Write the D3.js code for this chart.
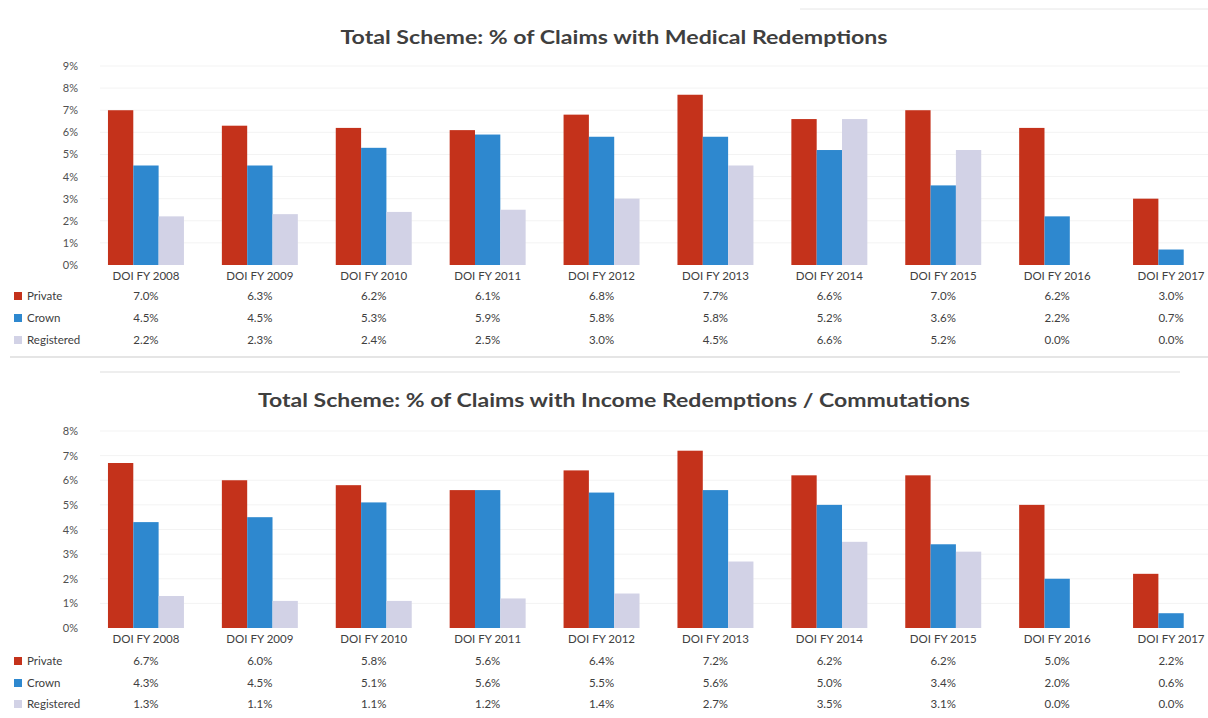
<!DOCTYPE html>
<html><head><meta charset="utf-8">
<script src="https://cdn.jsdelivr.net/npm/d3@7"></script>
<style>
html,body{margin:0;padding:0;background:#fff;}
svg{display:block;}
text{font-family:Lato,"Open Sans",sans-serif;}
</style></head>
<body>
<svg id="c" width="1208" height="718"></svg>
<script>
const categories = ["DOI FY 2008","DOI FY 2009","DOI FY 2010","DOI FY 2011","DOI FY 2012","DOI FY 2013","DOI FY 2014","DOI FY 2015","DOI FY 2016","DOI FY 2017"];
const seriesNames = ["Private","Crown","Registered"];
const seriesColors = ["#c4321b","#2e88cf","#d2d2e6"];

const medPrivate = [7.0,6.3,6.2,6.1,6.8,7.7,6.6,7.0,6.2,3.0];
const medCrown = [4.5,4.5,5.3,5.9,5.8,5.8,5.2,3.6,2.2,0.7];
const medRegistered = [2.2,2.3,2.4,2.5,3.0,4.5,6.6,5.2,0.0,0.0];
const medTicks = [0,1,2,3,4,5,6,7,8,9];

const incPrivate = [6.7,6.0,5.8,5.6,6.4,7.2,6.2,6.2,5.0,2.2];
const incCrown = [4.3,4.5,5.1,5.6,5.5,5.6,5.0,3.4,2.0,0.6];
const incRegistered = [1.3,1.1,1.1,1.2,1.4,2.7,3.5,3.1,0.0,0.0];
const incTicks = [0,1,2,3,4,5,6,7,8];

const titles = ["Total Scheme: % of Claims with Medical Redemptions","Total Scheme: % of Claims with Income Redemptions / Commutations"];

const svg = d3.select("#c");

// separators
svg.append("line").attr("x1",800).attr("x2",1208).attr("y1",9).attr("y2",9).attr("stroke","#e6e6e6");
svg.append("line").attr("x1",10).attr("x2",1208).attr("y1",357).attr("y2",357).attr("stroke","#dcdcdc").attr("stroke-width",1.5);
svg.append("line").attr("x1",100).attr("x2",1180).attr("y1",372).attr("y2",372).attr("stroke","#e8e8e8").attr("stroke-width",1.5);

const x0 = d3.scaleBand().domain(categories).range([89,1228]).paddingInner(0.333).paddingOuter(0.1665);
const x1 = d3.scaleBand().domain(seriesNames).range([0,x0.bandwidth()]);
const color = d3.scaleOrdinal().domain(seriesNames).range(seriesColors);

function drawChart(cfg){
  const g = svg.append("g");
  const y = d3.scaleLinear().domain([0,cfg.max]).range([cfg.y0,cfg.yTop]);
  const series = [cfg.p,cfg.c,cfg.r];

  g.append("text").attr("x",614).attr("y",cfg.titleY).attr("text-anchor","middle")
    .attr("font-size",19).attr("font-weight",700).attr("fill","#3f3f3f")
    .attr("textLength",cfg.titleW).attr("lengthAdjust","spacingAndGlyphs")
    .text(cfg.title);

  // gridlines
  g.selectAll(".grid").data(cfg.ticks.slice(1)).enter().append("line")
    .attr("x1",100).attr("x2",1208).attr("y1",d=>y(d)).attr("y2",d=>y(d))
    .attr("stroke","#f3f3f3");

  // y axis
  const ya = g.append("g").attr("transform","translate(80,0)")
    .call(d3.axisLeft(y).tickValues(cfg.ticks).tickFormat(d=>d+"%").tickSize(0).tickPadding(2));
  ya.select(".domain").remove();
  ya.selectAll("text").attr("font-size",11).attr("fill","#505050").style("font-family","Lato,'Open Sans',sans-serif");

  // bars
  categories.forEach((cat,i)=>{
    seriesNames.forEach((s,j)=>{
      const v = series[j][i];
      if(v<=0) return;
      g.append("rect").attr("x",x0(cat)+x1(s)).attr("width",x1.bandwidth())
        .attr("y",y(v)).attr("height",y(0)-y(v)).attr("fill",color(s));
    });
  });

  // category labels
  const xa = g.append("g").attr("transform",`translate(0,${cfg.catY})`)
    .call(d3.axisBottom(x0).tickSize(0).tickPadding(0));
  xa.select(".domain").remove();
  xa.selectAll("text").attr("font-size",11.5).attr("fill","#404040").attr("dy","0.35em").attr("y",0)
    .style("font-family","Lato,'Open Sans',sans-serif");

  // table rows
  seriesNames.forEach((s,j)=>{
    const ry = cfg.rowY[j];
    g.append("rect").attr("x",14).attr("y",ry-4).attr("width",8).attr("height",8).attr("fill",color(s));
    g.append("text").attr("x",27).attr("y",ry).attr("dy","0.35em").attr("font-size",11.5).attr("fill","#404040").text(s);
    g.selectAll(null).data(categories).enter().append("text")
      .attr("x",d=>x0(d)+x0.bandwidth()/2).attr("y",ry).attr("dy","0.35em")
      .attr("text-anchor","middle").attr("font-size",11.5).attr("fill","#404040")
      .text((d,i)=>series[j][i].toFixed(1)+"%");
  });
}

drawChart({title:titles[0],titleY:44,titleW:547,max:9,ticks:medTicks,y0:265,yTop:66,
  p:medPrivate,c:medCrown,r:medRegistered,catY:276,rowY:[296,318,340]});
drawChart({title:titles[1],titleY:407,titleW:712,max:8,ticks:incTicks,y0:628,yTop:431,
  p:incPrivate,c:incCrown,r:incRegistered,catY:639,rowY:[661,683,704]});
</script>
</body></html>
